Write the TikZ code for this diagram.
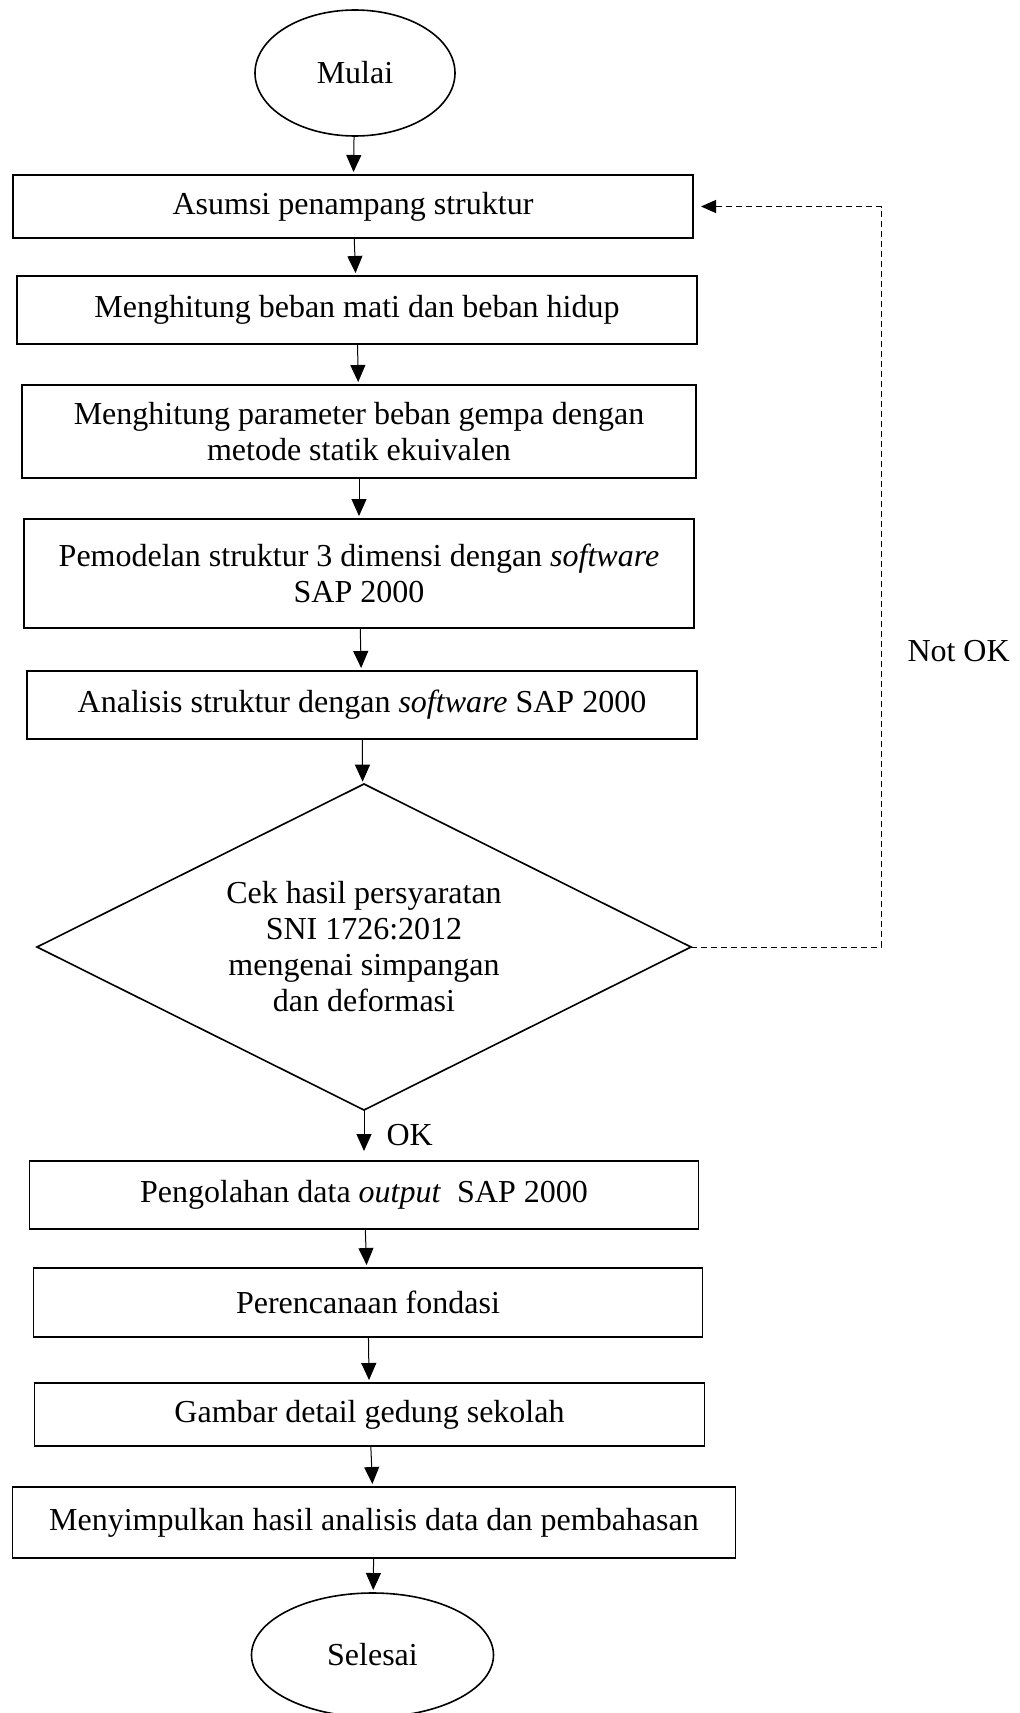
\documentclass[tikz,border=0pt]{standalone}
\usepackage{fontspec}
\setmainfont{Liberation Serif}
\usepackage{tikz}
\usetikzlibrary{arrows.meta, positioning, shapes}
\tikzset{font=\fontsize{16pt}{18pt}\selectfont}
\tikzset{terminal/.style={ellipse, draw=black, line width=0.8pt, inner sep=0pt, outer sep=0pt}}
\tikzset{process/.style={rectangle, draw=black, line width=0.8pt, inner sep=0pt, outer sep=0pt, align=center}}
\tikzset{decision/.style={diamond, aspect=2, draw=black, line width=0.8pt, inner sep=0pt, outer sep=0pt, align=center}}
\tikzset{flowlabel/.style={inner sep=0pt}}

\begin{document}
\begin{tikzpicture}[>={Triangle[width=7.5pt, length=8.5pt]}]
  \useasboundingbox (-177.5pt,-820pt) rectangle (332pt,36.5pt);
  %Nodes
  \node[terminal, minimum width=100pt, minimum height=63pt] (mulai) {Mulai};
  \node[process, minimum width=340pt, minimum height=31.5pt] (asumsi) [below=19.5pt of mulai, xshift=-1pt] {Asumsi penampang struktur};
  \node[process, minimum width=340pt, minimum height=34pt] (beban) [below=19pt of asumsi, xshift=2pt] {Menghitung beban mati dan beban hidup};
  \node[process, minimum width=337pt, minimum height=46.5pt] (gempa) [below=20.5pt of beban, xshift=1pt] {Menghitung parameter beban gempa dengan\\metode statik ekuivalen};
  \node[process, minimum width=335pt, minimum height=54.5pt] (model) [below=20.5pt of gempa] {Pemodelan struktur 3 dimensi dengan \textit{software}\\SAP 2000};
  \node[process, minimum width=335pt, minimum height=34pt] (analisis) [below=21.5pt of model, xshift=1.5pt] {Analisis struktur dengan \textit{software} SAP 2000};
  \node[decision, minimum width=327pt, minimum height=163pt] (cek) [below=22.5pt of analisis, xshift=1pt] {Cek hasil persyaratan\\SNI 1726:2012\\mengenai simpangan\\dan deformasi};
  \node[process, minimum width=334.5pt, minimum height=34pt] (olah) [below=25.5pt of cek] {Pengolahan data \textit{output}~ SAP 2000};
  \node[process, minimum width=334.5pt, minimum height=34.5pt] (fondasi) [below=19.5pt of olah, xshift=2pt] {Perencanaan fondasi};
  \node[process, minimum width=335pt, minimum height=31.5pt] (gambar) [below=23pt of fondasi, xshift=0.75pt] {Gambar detail gedung sekolah};
  \node[process, minimum width=361.5pt, minimum height=35.5pt] (simpul) [below=20.5pt of gambar, xshift=2.25pt] {Menyimpulkan hasil analisis data dan pembahasan};
  \node[terminal, minimum width=121pt, minimum height=62pt] (selesai) [below=17.5pt of simpul, xshift=-0.75pt] {Selesai};
  % Edges
  \begin{scope}[every edge/.style={draw=black, line width=0.5pt, ->, shorten >=1.5pt}]
    \draw (mulai) edge (asumsi);
    \draw (asumsi) edge (beban);
    \draw (beban) edge (gempa);
    \draw (gempa) edge (model);
    \draw (model) edge (analisis);
    \draw (analisis) edge (cek);
    \draw (cek) edge[shorten >=5pt] node[flowlabel, right=11pt]{OK} (olah);
    \draw (olah) edge (fondasi);
    \draw (fondasi) edge (gambar);
    \draw (gambar) edge (simpul);
    \draw (simpul) edge (selesai);
  \end{scope}
  % Loop back
  \draw[line width=0.5pt, dash pattern=on 3pt off 2pt, ->, >={Triangle[width=6.5pt, length=7.5pt]}, shorten >=4pt]
    (cek.east) -- ++(95pt,0) |- node[flowlabel, pos=0.2, right=13pt]{Not OK} (asumsi.east);
\end{tikzpicture}
\end{document}
